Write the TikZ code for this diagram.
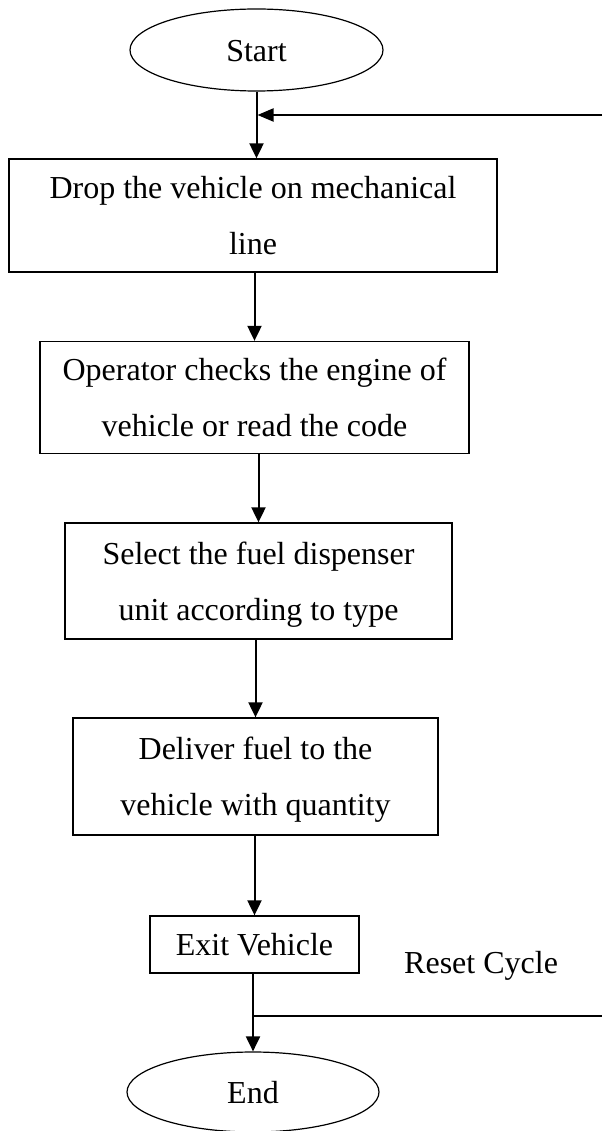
\documentclass[tikz,border=0pt]{standalone}
\usepackage{fontspec}
\setmainfont{Liberation Serif}
\usetikzlibrary{arrows.meta,shapes.geometric}

\begin{document}
\begin{tikzpicture}[x=1pt,y=-1pt,
  txt/.style={font=\fontsize{32}{56}\selectfont, align=center, inner sep=0pt},
  procbox/.style={txt, draw, line width=1.3pt, rectangle},
  terminal/.style={txt, draw, line width=1.2pt, ellipse,
    minimum width=253pt, minimum height=82pt},
  flow/.style={line width=2pt, -{Triangle[length=15pt,width=14pt]}},
  plain/.style={line width=2pt}
]
\useasboundingbox (0,0) rectangle (602,1131);

% terminals
\node[terminal] (start) at (256.5,50) {\strut Start};
\node[terminal, minimum width=252pt, minimum height=80pt] (end) at (253,1092) {\strut End};

% process steps
\node[procbox, minimum width=488pt, minimum height=113pt] (drop) at (253,215.5)
  {\strut Drop the vehicle on mechanical\\\strut line};
\node[procbox, minimum width=429pt, minimum height=109pt] (check) at (254.5,397.5)
  {\strut Operator checks the engine of\\\strut vehicle or read the code};
\node[procbox, minimum width=387pt, minimum height=116pt] (select) at (258.5,581)
  {\strut Select the fuel dispenser\\\strut unit according to type};
\node[procbox, minimum width=365pt, minimum height=117pt] (deliver) at (255.5,776.5)
  {\strut Deliver fuel to the\\\strut vehicle with quantity};
\node[procbox, minimum width=209pt, minimum height=57pt] (exit) at (254.5,944.5)
  {\strut Exit Vehicle};

\node[txt, anchor=base west] (reset) at (404,973) {Reset Cycle};

% loop ends at the right margin
\coordinate (loopin) at (602,115);
\coordinate (loopout) at (602,1016);

% main flow
\draw[flow] (start.south) -- (start.south |- drop.north);
\draw[flow] (drop.south -| check.north) -- (check.north);
\draw[flow] (check.south -| select.north) -- (select.north);
\draw[flow] (select.south -| deliver.north) -- (deliver.north);
\draw[flow] (deliver.south -| exit.north) -- (exit.north);
\draw[flow] (exit.south -| end.north) -- (end.north);

% reset cycle return path
\draw[plain] (loopout -| end.north) -- (loopout);
\draw[line width=2pt, -{Triangle[length=16pt,width=13pt]}] (loopin) -- ([xshift=1pt]loopin -| start.south);
\end{tikzpicture}
\end{document}
